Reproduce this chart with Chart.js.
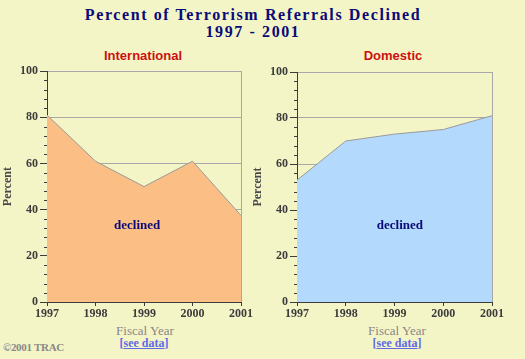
<!DOCTYPE html>
<html><head><meta charset="utf-8">
<script src="https://cdn.jsdelivr.net/npm/chart.js@4/dist/chart.umd.min.js"></script>
<style>
html,body{margin:0;padding:0;background:#F4F5C7;width:525px;height:359px;overflow:hidden;position:relative;}
.t{position:absolute;white-space:nowrap;transform:translateX(-50%);}
#title{left:253px;top:6px;font:bold 16px "Liberation Serif","DejaVu Serif",serif;color:#0A0A78;letter-spacing:1.6px;text-align:center;line-height:17px;}
.sub{top:48px;font:bold 13px "Liberation Sans",Arial,sans-serif;color:#CC1010;}
.fy{top:323px;font:13px "Liberation Serif",serif;color:#888;}
.sd{top:336px;font:bold 12px "Liberation Serif",serif;color:#6068E8;}
.sd span{text-decoration:underline;}
#copy{position:absolute;left:3px;top:341px;font:bold 11px "Liberation Serif",serif;color:#888;letter-spacing:-0.3px;}
canvas{position:absolute;}
</style></head>
<body>
<div id="title" class="t">Percent of Terrorism Referrals Declined<br>1997 - 2001</div>
<div class="t sub" style="left:143px">International</div>
<div class="t sub" style="left:393px">Domestic</div>
<div class="t fy" style="left:145px">Fiscal Year</div>
<div class="t fy" style="left:397px">Fiscal Year</div>
<div class="t sd" style="left:144px">[<span>see data</span>]</div>
<div class="t sd" style="left:397px">[<span>see data</span>]</div>
<div id="copy">©2001 TRAC</div>
<canvas id="c1" width="262" height="278" style="left:0px;top:62px"></canvas>
<canvas id="c2" width="263" height="278" style="left:250px;top:62px"></canvas>
<script>
const years = ['1997', '1998', '1999', '2000', '2001'];
const internationalPct = [81, 61, 50, 61, 37.5];
const domesticPct = [53, 70, 73, 75, 81];
const yMajorStep = 20;
const yMinorStep = 4;
const areaLabel = 'declined';

const AXIS = '#3C3C3C';
const GRID = '#A8A8A8';

const minorTicks = {
  id: 'minorTicks',
  afterDraw(chart) {
    const s = chart.scales.y, ctx = chart.ctx;
    ctx.save();
    ctx.strokeStyle = AXIS;
    ctx.lineWidth = 1;
    for (let v = 0; v <= 100; v += yMinorStep) {
      if (v % yMajorStep === 0) continue;
      const y = Math.round(s.getPixelForValue(v)) + 0.5;
      ctx.beginPath();
      ctx.moveTo(s.right - 3, y);
      ctx.lineTo(s.right, y);
      ctx.stroke();
    }
    ctx.restore();
  }
};

const areaText = {
  id: 'areaText',
  afterDatasetsDraw(chart, args, opts) {
    const a = chart.chartArea, ctx = chart.ctx;
    ctx.save();
    ctx.font = 'bold 13px "Liberation Serif", serif';
    ctx.fillStyle = '#0A0A78';
    ctx.textAlign = 'center';
    ctx.textBaseline = 'middle';
    ctx.fillText(opts.text, a.left + opts.fx * (a.right - a.left), chart.scales.y.getPixelForValue(opts.v));
    ctx.restore();
  }
};

function makeChart(id, data, fill, topPad, fx) {
  return new Chart(document.getElementById(id), {
    type: 'line',
    data: {
      labels: years,
      datasets: [{
        data: data,
        fill: 'origin',
        backgroundColor: fill,
        borderColor: '#9A9A9A',
        borderWidth: 1,
        pointRadius: 0,
        tension: 0
      }]
    },
    plugins: [minorTicks, areaText],
    options: {
      responsive: false,
      devicePixelRatio: 1,
      animation: false,
      layout: { padding: { top: topPad, right: 21, left: 0, bottom: 0 } },
      plugins: {
        legend: { display: false },
        tooltip: { enabled: false },
        areaText: { text: areaLabel, fx: fx, v: 33 }
      },
      scales: {
        x: {
          offset: false,
          afterFit: s => { s.height = 38; },
          grid: {
            color: c => c.index === years.length - 1 ? GRID : 'rgba(0,0,0,0)',
            tickColor: AXIS,
            tickLength: 4
          },
          border: { color: AXIS, width: 1 },
          ticks: {
            color: AXIS,
            padding: 1,
            maxRotation: 0,
            font: { family: '"Liberation Serif", serif', weight: 'bold', size: 12 }
          },
          title: { display: false }
        },
        y: {
          min: 0, max: 100,
          afterFit: s => { s.width = 47; },
          ticks: {
            stepSize: yMajorStep,
            color: AXIS,
            padding: 2,
            font: { family: '"Liberation Serif", serif', weight: 'bold', size: 12 }
          },
          grid: {
            color: c => c.tick && c.tick.value === 0 ? 'rgba(0,0,0,0)' : GRID,
            tickColor: AXIS,
            tickLength: 7
          },
          border: { color: AXIS, width: 1 },
          title: {
            display: true,
            text: 'Percent',
            color: '#484848',
            padding: { top: 1, bottom: 0 },
            font: { family: '"Liberation Serif", serif', weight: 'bold', size: 12 }
          }
        }
      }
    }
  });
}

makeChart('c1', internationalPct, '#FBBF85', 9, 0.465);
makeChart('c2', domesticPct, '#B3D9FD', 10, 0.528);
</script>
</body></html>
